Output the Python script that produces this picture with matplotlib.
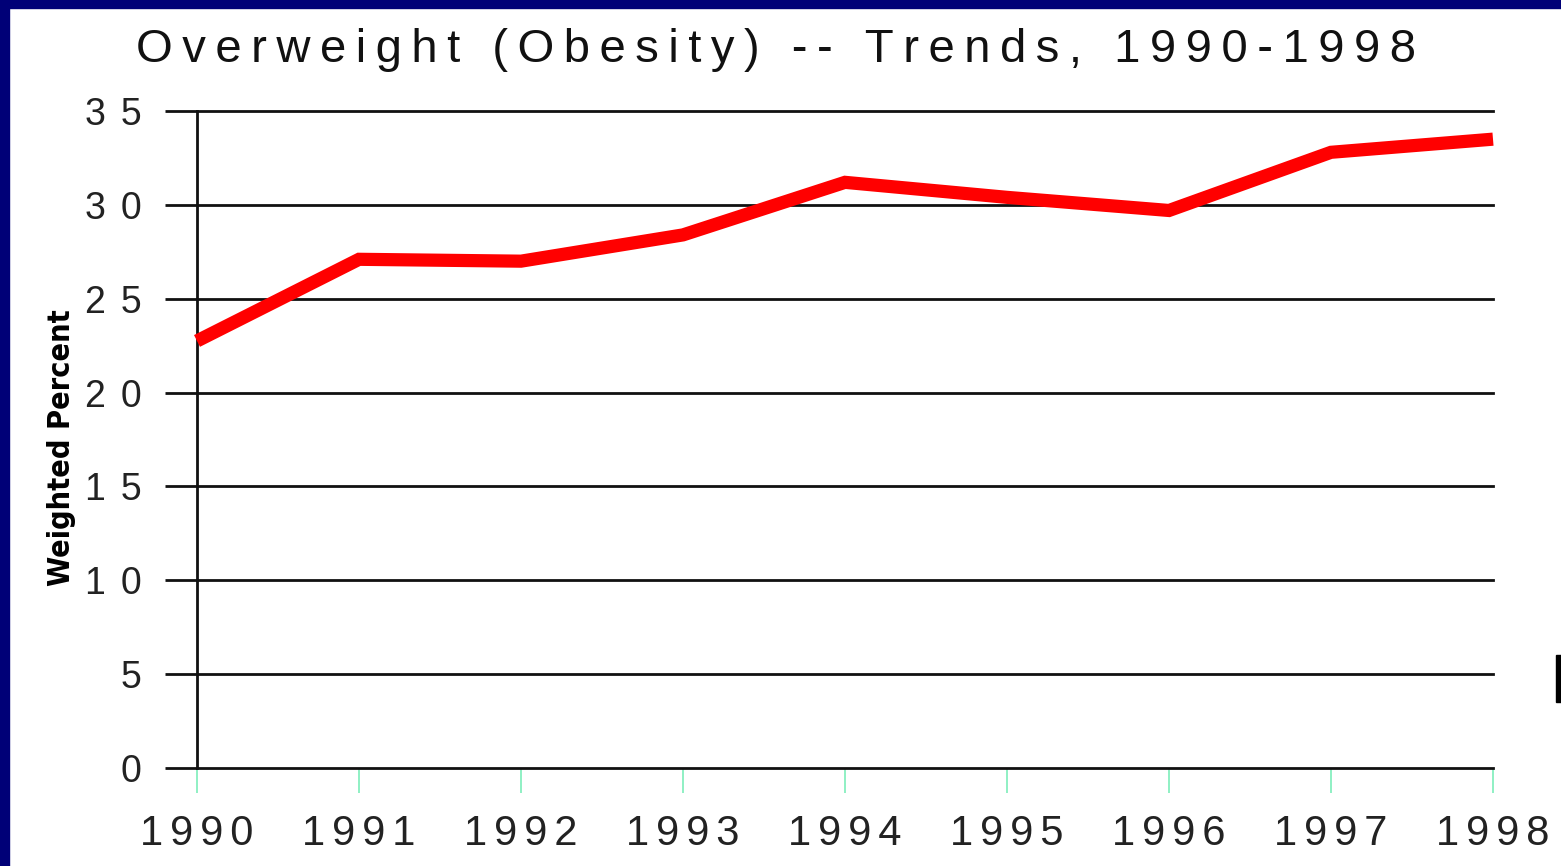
import matplotlib
matplotlib.use("Agg")
import matplotlib.pyplot as plt
from matplotlib.patches import Rectangle

years = [1990, 1991, 1992, 1993, 1994, 1995, 1996, 1997, 1998]
weighted_percent = [22.75, 27.1, 27.0, 28.4, 31.2, 30.4, 29.7, 32.8, 33.5]
y_ticks = [0, 5, 10, 15, 20, 25, 30, 35]
title_text = "Overweight (Obesity) -- Trends, 1990-1998"
ylabel_text = "Weighted Percent"

THIN = "\u2009"   # thin space
SIXTH = "\u2006"  # six-per-em space


def spaced(s, sep=THIN):
    return sep.join(list(s))


W, H = 1561, 866
fig = plt.figure(figsize=(W / 100, H / 100), dpi=100)
fig.patch.set_facecolor("white")

# navy border (top and left)
fig.add_artist(Rectangle((0, 1 - 8 / H), 1, 8 / H, transform=fig.transFigure,
                         color="#000077", zorder=0))
fig.add_artist(Rectangle((0, 0), 9 / W, 1, transform=fig.transFigure,
                         color="#000077", zorder=0))
# small black mark at right edge
fig.add_artist(Rectangle((1556 / W, 1 - 702 / H), 5 / W, 47 / H,
                         transform=fig.transFigure, color="black", zorder=0))

ax = fig.add_axes([197 / W, 98 / H, (1493 - 197) / W, 657 / H])
ax.set_facecolor("white")

ax.plot(years, weighted_percent, color="#ff0000", linewidth=9.5,
        solid_capstyle="butt", solid_joinstyle="miter", clip_on=False, zorder=5)

ax.set_xlim(1990, 1998)
ax.set_ylim(0, 35)

for y in y_ticks[1:]:
    ax.axhline(y, color="#111111", linewidth=2.0, zorder=1, clip_on=False)

for s in ["top", "right"]:
    ax.spines[s].set_visible(False)
ax.spines["left"].set_color("#111111")
ax.spines["left"].set_linewidth(2.0)
ax.spines["bottom"].set_color("#111111")
ax.spines["bottom"].set_linewidth(2.0)

fam = ["Liberation Sans", "DejaVu Sans"]

ax.set_yticks(y_ticks)
ax.set_yticklabels([spaced(str(v), THIN + THIN) for v in y_ticks],
                   fontsize=27, family=fam, color="#222222")
ax.tick_params(axis="y", length=23, width=2.0, color="#111111", pad=17,
               direction="out")

ax.set_xticks(years)
ax.set_xticklabels([spaced(str(v), SIXTH) for v in years],
                   fontsize=30, family=fam, color="#222222")
ax.tick_params(axis="x", length=18, width=1.4, color="#8ff0c4", pad=15,
               direction="out")

fig.text(776 / W, 1 - 50 / H, spaced(title_text), ha="center", va="center",
         fontsize=34, family=fam, color="#111111")

fig.text(62 / W, 1 - 448 / H, ylabel_text, rotation=90, ha="center",
         va="center", fontsize=22, family=["DejaVu Sans"], fontstretch="condensed",
         fontweight="bold", color="black")

fig.savefig("out.png", dpi=100, facecolor="white")
